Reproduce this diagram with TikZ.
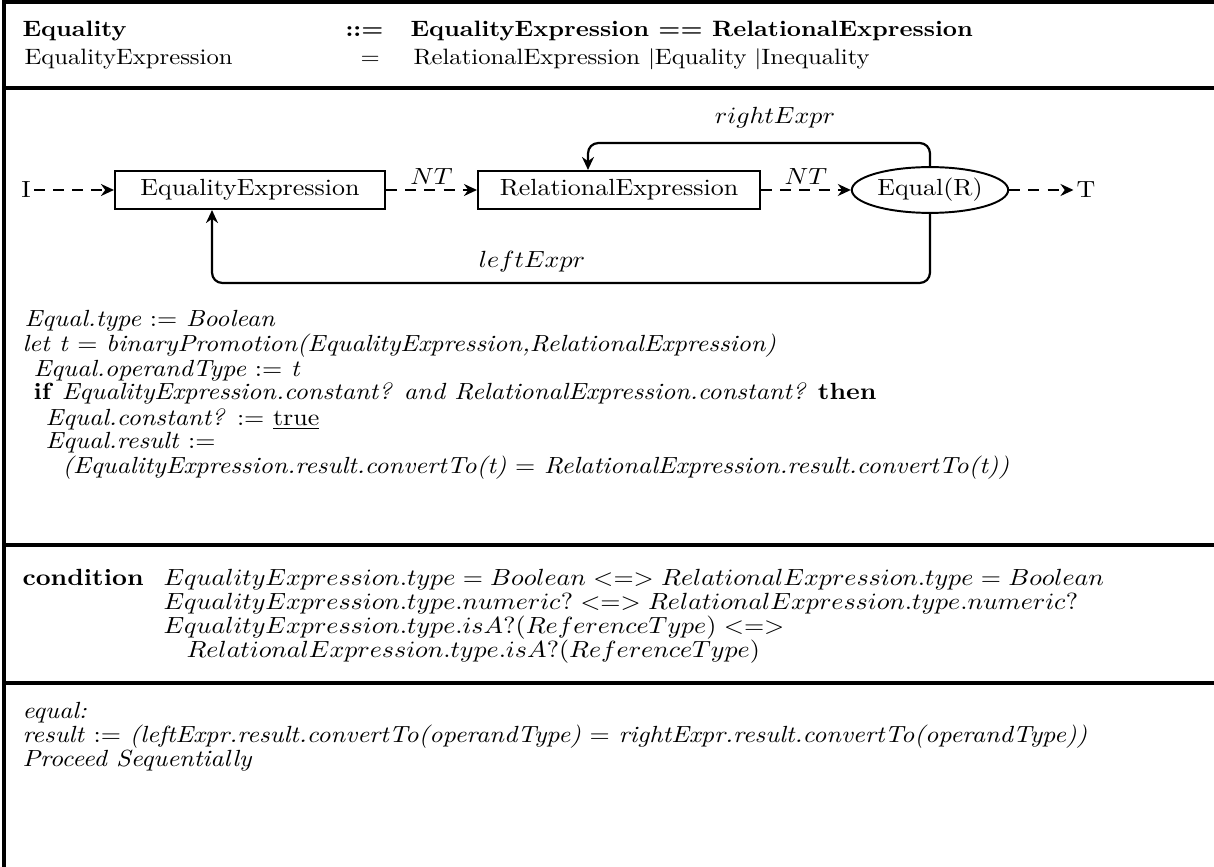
\documentclass[tikz,border=0pt]{standalone}
\usetikzlibrary{arrows.meta,shapes.geometric}
\begin{document}
\begin{tikzpicture}[x=0.385pt,y=-0.385pt]
\useasboundingbox (0,0) rectangle (1214,867);
% text is set slightly condensed in height; the y unit compensates
\begin{scope}[yscale=0.9,transform shape,y=-0.42778pt,
  frame/.style={line width=1.45pt},
  stmt/.style={anchor=base west,inner sep=0pt},
  head/.style={stmt,font=\fontsize{9.5}{11}\selectfont},
  symbox/.style={draw,line width=0.75pt,minimum height=16.4pt,inner sep=2pt},
  symoval/.style={draw,ellipse,line width=0.75pt,minimum width=57.8pt,minimum height=19.6pt,inner sep=1pt},
  term/.style={inner sep=1pt},
  conn/.style={line width=0.85pt,-{Stealth[length=5pt,width=4.6pt]}},
  flow/.style={conn,dash pattern=on 4.2pt off 3.2pt},
  lbl/.style={above,inner sep=2pt}]

% outer frame and section rules
\draw[frame] (4,867) -- (4,2) -- (1214,2);
\draw[frame] (4,88) -- (1214,88);
\draw[frame] (4,545) -- (1214,545);
\draw[frame] (4,683) -- (1214,683);

% production header
\node[head] (h1) at (22,37) {\textbf{Equality}};
\node[head] (h2) at (345,37) {\textbf{::=}};
\node[head] (h3) at (410,37) {\textbf{EqualityExpression == RelationalExpression}};
\node[head] (h4) at (24,65) {EqualityExpression};
\node[head] (h5) at (360,65) {=};
\node[head] (h6) at (413,65) {RelationalExpression $|$Equality $|$Inequality};

% control-flow graph
\node[term] (I) at (26,190) {I};
\node[symbox,minimum width=104pt] (b1) at (250,190) {EqualityExpression};
\node[symbox,minimum width=108.6pt] (b2) at (619,190) {RelationalExpression};
\node[symoval] (eq) at (930,190) {Equal(R)};
\node[term] (T) at (1086,190) {T};

\draw[flow] (I) -- (b1);
\draw[flow] (b1) -- node[lbl] {$NT$} (b2);
\draw[flow] (b2) -- node[lbl] {$NT$} (eq);
\draw[flow] (eq) -- (T);

\coordinate (rt) at (588,143);
\coordinate (lf) at (212,283);
\draw[conn,rounded corners=4pt] (eq.north) |- (rt) -- (b2.north -| rt);
\draw[conn,rounded corners=4pt] (eq.south) |- (lf) -- (b1.south -| lf);
\node (rl) at (775,118) {$rightExpr$};
\node (ll) at (532,262) {$leftExpr$};

% semantic rules
\node[stmt] (s1) at (24,327) {\textit{Equal.type} := \textit{Boolean}};
\node[stmt] (s2) at (22,352) {\textit{let t} = \textit{binaryPromotion(EqualityExpression,RelationalExpression)}};
\node[stmt] (s3) at (33,376) {\textit{Equal.operandType} := \textit{t}};
\node[stmt] (s4) at (33,400) {\textbf{if} \textit{EqualityExpression.constant? and RelationalExpression.constant?} \textbf{then}};
\node[stmt] (s5) at (45,425) {\textit{Equal.constant?} := \underline{true}};
\node[stmt] (s6) at (45,448) {\textit{Equal.result} :=};
\node[stmt] (s7) at (62,473) {\textit{(EqualityExpression.result.convertTo(t)} = \textit{RelationalExpression.result.convertTo(t))}};

% static conditions
\node[stmt] (c0) at (22,585) {\textbf{condition}};
\node[stmt] (c1) at (163,585) {$EqualityExpression.type = Boolean <=> RelationalExpression.type = Boolean$};
\node[stmt] (c2) at (163,609) {$EqualityExpression.type.numeric? <=> RelationalExpression.type.numeric?$};
\node[stmt] (c3) at (163,633) {$EqualityExpression.type.isA?(ReferenceType) <=>$};
\node[stmt] (c4) at (186,657) {$RelationalExpression.type.isA?(ReferenceType)$};

% dynamic semantics
\node[stmt] (d1) at (22,718) {\textit{equal:}};
\node[stmt] (d2) at (22,742) {\textit{result} := \textit{(leftExpr.result.convertTo(operandType)} = \textit{rightExpr.result.convertTo(operandType))}};
\node[stmt] (d3) at (22,766) {\textit{Proceed Sequentially}};
\end{scope}
\end{tikzpicture}
\end{document}
